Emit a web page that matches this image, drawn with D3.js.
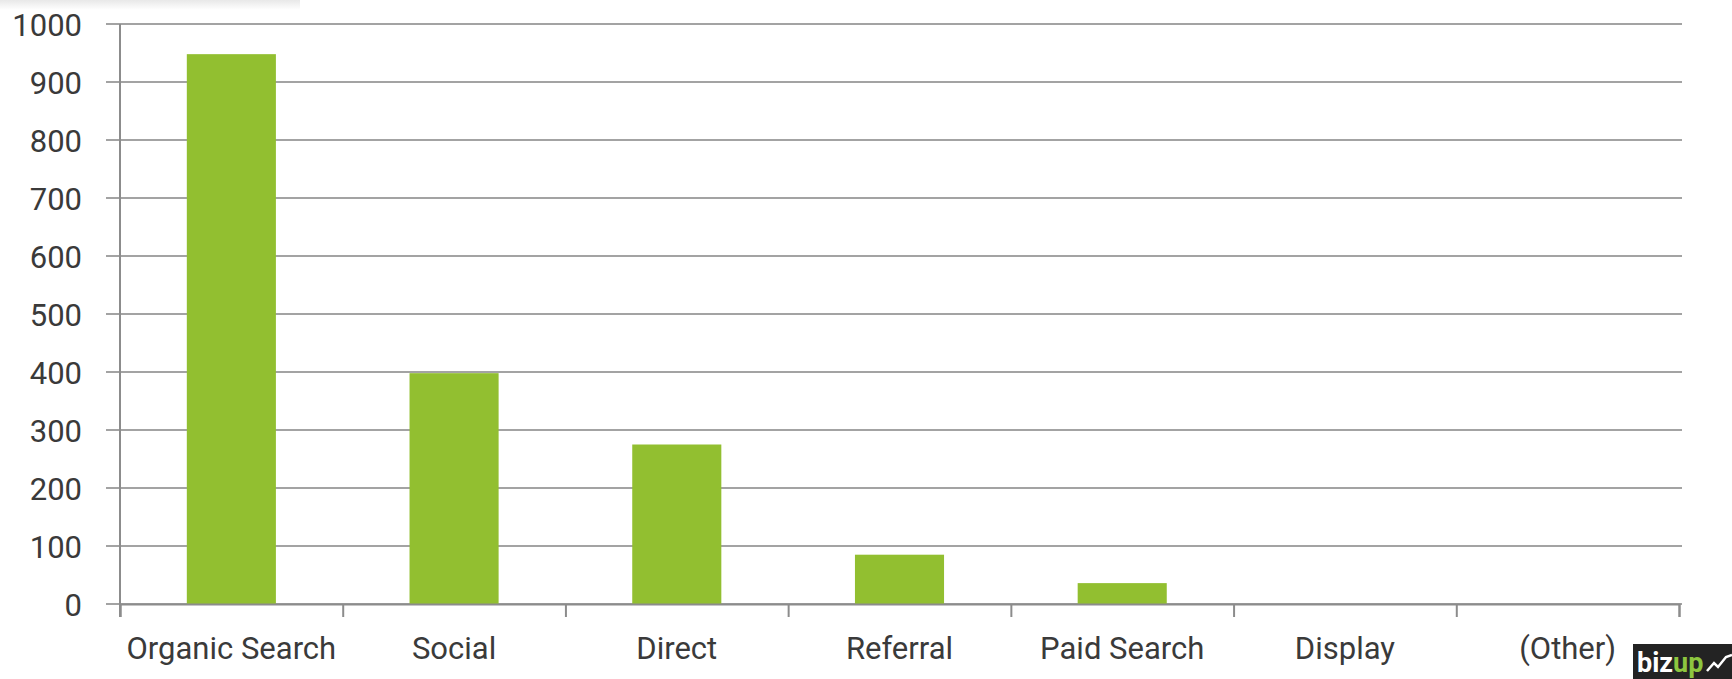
<!DOCTYPE html>
<html>
<head>
<meta charset="utf-8">
<script src="https://cdnjs.cloudflare.com/ajax/libs/d3/7.8.5/d3.min.js"></script>
<style>
  body { margin: 0; background: #fff; }
  svg { display: block; }
  .lbl text { font-family: Roboto, sans-serif; font-size: 31px; fill: #3a3a3a; }
</style>
</head>
<body>
<svg id="chart"></svg>
<script>
// traffic by channel
const categories = ['Organic Search', 'Social', 'Direct', 'Referral', 'Paid Search', 'Display', '(Other)'];
const sessions = [948, 398, 275, 85, 36, 0, 0];
const yTicks = [0, 100, 200, 300, 400, 500, 600, 700, 800, 900, 1000];

const W = 1732, H = 679;
const plotL = 120, plotR = 1679, plotT = 24, plotB = 604;

const svg = d3.select('#chart').attr('width', W).attr('height', H);

// faint shadow at top edge
const grad = svg.append('defs').append('linearGradient')
  .attr('id', 'shade').attr('x1', 0).attr('y1', 0).attr('x2', 0).attr('y2', 1);
grad.append('stop').attr('offset', 0).attr('stop-color', '#e8e8e8');
grad.append('stop').attr('offset', 1).attr('stop-color', '#fff');
svg.append('rect').attr('width', 300).attr('height', 10).attr('fill', 'url(#shade)');

const x = d3.scaleBand().domain(categories).range([plotL, plotR])
  .paddingInner(0.6).paddingOuter(0.3);
const xb = d3.scaleLinear().domain([0, categories.length]).range([plotL, plotR]);
const y = d3.scaleLinear().domain([0, 1000]).range([plotB, plotT]);

// gridlines
svg.append('g')
  .selectAll('line')
  .data(yTicks)
  .join('line')
    .attr('x1', plotL - 14).attr('x2', plotR + 3)
    .attr('y1', d => y(d)).attr('y2', d => y(d))
    .attr('stroke', '#a3a3a3').attr('stroke-width', 2);

// bars
svg.append('g')
  .selectAll('rect')
  .data(categories)
  .join('rect')
    .attr('x', d => x(d))
    .attr('width', x.bandwidth())
    .attr('y', (d, i) => y(sessions[i]))
    .attr('height', (d, i) => y(0) - y(sessions[i]))
    .attr('fill', '#92bf30');

// y axis line
svg.append('line')
  .attr('x1', plotL).attr('x2', plotL)
  .attr('y1', y(1000)).attr('y2', plotB + 13)
  .attr('stroke', '#8c8c8c').attr('stroke-width', 2);

// category boundary ticks
const bx = svg.append('g')
  .attr('transform', `translate(0,${plotB})`)
  .call(d3.axisBottom(xb).tickValues(d3.range(categories.length + 1)).tickSize(13).tickFormat(''));
bx.select('.domain').attr('stroke', '#8c8c8c').attr('stroke-width', 2);
bx.selectAll('.tick line').attr('stroke', '#8c8c8c').attr('stroke-width', 2);

// y labels
const ya = svg.append('g').attr('class', 'lbl')
  .attr('transform', `translate(${plotL - 14},0)`)
  .call(d3.axisLeft(y).tickValues(yTicks).tickFormat(d3.format('d')).tickSize(0).tickPadding(24));
ya.select('.domain').remove();
ya.selectAll('text').attr('dy', '0.36em');

// x labels
const xa = svg.append('g').attr('class', 'lbl')
  .attr('transform', `translate(0,${plotB})`)
  .call(d3.axisBottom(x).tickSize(0).tickPadding(33));
xa.select('.domain').remove();

// logo corner
const logo = svg.append('g').attr('transform', 'translate(1633,644)');
logo.append('rect').attr('width', 99).attr('height', 35).attr('fill', '#232323');
const lt = logo.append('text').attr('x', 4).attr('y', 28)
  .style('font-family', 'Roboto, sans-serif').style('font-weight', 'bold').style('font-size', '27px');
lt.append('tspan').attr('fill', '#fff').text('biz');
lt.append('tspan').attr('fill', '#8dc63f').text('up');
logo.append('path').attr('d', 'M74,27 L81,19 L85,23 L93,13 L99,11')
  .attr('fill', 'none').attr('stroke', '#fff').attr('stroke-width', 2.5);
</script>
</body>
</html>
